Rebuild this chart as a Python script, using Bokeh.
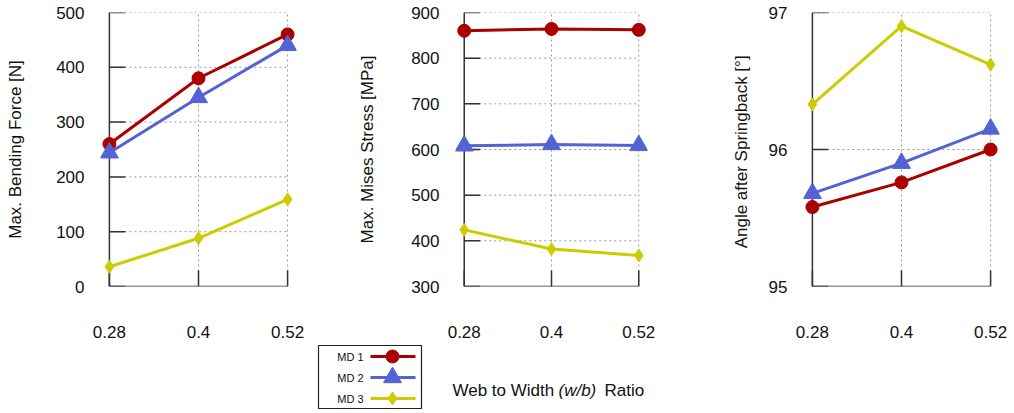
import math
from bokeh.plotting import figure
from bokeh.models import Range1d, FixedTicker, LinearAxis
from bokeh.layouts import column, row
from bokeh.embed import file_html
from bokeh.resources import INLINE
from bokeh.core.properties import value

# ---------------- data ----------------
x_ratio = [0.28, 0.4, 0.52]
xtick_labels = ["0.28", "0.4", "0.52"]
series_names = ["MD 1", "MD 2", "MD 3"]

force_md1 = [260, 380, 460]
force_md2 = [244, 345, 440]
force_md3 = [36, 88, 159]

stress_md1 = [860, 864, 862]
stress_md2 = [608, 611, 609]
stress_md3 = [424, 382, 368]

angle_md1 = [95.58, 95.76, 96.00]
angle_md2 = [95.68, 95.90, 96.15]
angle_md3 = [96.33, 96.90, 96.62]

force_ticks = [0, 100, 200, 300, 400, 500]
stress_ticks = [300, 400, 500, 600, 700, 800, 900]
angle_ticks = [95, 96, 97]

# ---------------- style ----------------
FONT = "Liberation Sans"
COLORS = ["#aa0000", "#5363d6", "#cccc00"]
MARKERS = ["circle", "triangle", "diamond"]
MSIZES = [13, 18, 13]
AXIS_COLOR = "#333333"
GRID_COLOR = "#9a9a9a"
TEXT_COLOR = "#111111"
FRAME_W = 196
PAD = 0.012
H = 340


def make_panel(ylabel, series, yticks, bl, br, lab_standoff):
    ymin, ymax = yticks[0], yticks[-1]
    p = figure(width=bl + FRAME_W + br, height=H,
               x_range=Range1d(x_ratio[0] - PAD, x_ratio[-1] + PAD),
               y_range=Range1d(ymin, ymax),
               output_backend="svg", toolbar_location=None,
               min_border_left=bl, min_border_right=br,
               min_border_top=12, min_border_bottom=53,
               x_axis_type=None, y_axis_type=None)
    p.outline_line_color = None
    p.background_fill_color = "white"
    p.border_fill_color = "white"

    xa = LinearAxis(ticker=FixedTicker(ticks=x_ratio),
                    major_label_overrides=dict(zip(x_ratio, xtick_labels)))
    xa.axis_line_color = None
    xa.major_tick_line_color = None
    xa.minor_tick_line_color = None
    xa.major_label_standoff = 33
    xa.major_label_text_font = FONT
    xa.major_label_text_font_size = "17px"
    xa.major_label_text_color = TEXT_COLOR
    p.add_layout(xa, "below")

    ya = LinearAxis(ticker=FixedTicker(ticks=yticks), axis_label=ylabel)
    ya.axis_line_color = None
    ya.major_tick_line_color = None
    ya.minor_tick_line_color = None
    ya.major_label_standoff = 10
    ya.major_label_text_font = FONT
    ya.major_label_text_font_size = "17px"
    ya.major_label_text_color = TEXT_COLOR
    ya.axis_label_text_font = FONT
    ya.axis_label_text_font_size = "17px"
    ya.axis_label_text_font_style = "normal"
    ya.axis_label_text_color = TEXT_COLOR
    ya.axis_label_standoff = lab_standoff
    p.add_layout(ya, "left")

    x0, x1 = x_ratio[0], x_ratio[-1]
    # grid (dotted)
    gx = x_ratio[1:]
    p.segment(x0=gx, y0=[ymin] * len(gx), x1=gx, y1=[ymax] * len(gx),
              line_color=GRID_COLOR, line_dash="2 3", line_width=1)
    gy = yticks[1:]
    p.segment(x0=[x0] * len(gy), y0=gy, x1=[x1] * len(gy), y1=gy,
              line_color=GRID_COLOR, line_dash="2 3", line_width=1)
    # axis lines
    p.segment(x0=[x0, x0], y0=[ymin, ymin], x1=[x0, x1], y1=[ymax, ymin],
              line_color=AXIS_COLOR, line_width=1.5)
    # inward ticks
    p.ray(x=[x0] * len(yticks), y=yticks, length=16, length_units="screen",
          angle=0, line_color=AXIS_COLOR, line_width=1.5)
    p.ray(x=x_ratio, y=[ymin] * len(x_ratio), length=16, length_units="screen",
          angle=math.pi / 2, line_color=AXIS_COLOR, line_width=1.5)

    for ys, c, m, s in zip(series, COLORS, MARKERS, MSIZES):
        p.line(x_ratio, ys, line_color=c, line_width=3)
        p.scatter(x_ratio, ys, marker=m, size=s, fill_color=c, line_color=c)
    return p


p1 = make_panel("Max. Bending Force [N]", [force_md1, force_md2, force_md3],
                force_ticks, 100, 59, 28)
p2 = make_panel("Max. Mises Stress [MPa]", [stress_md1, stress_md2, stress_md3],
                stress_ticks, 96, 73, 31)
p3 = make_panel("Angle after Springback  [\u00b0]", [angle_md1, angle_md2, angle_md3],
                angle_ticks, 83, 15, 15)

# ---------------- bottom strip: legend + x label ----------------
BW, BH = 1014, 73
bf = figure(width=BW, height=BH, x_range=Range1d(0, BW), y_range=Range1d(BH, 0),
            output_backend="svg", toolbar_location=None, min_border=0,
            x_axis_type=None, y_axis_type=None)
bf.outline_line_color = None
bf.grid.visible = False

bf.quad(left=[318], right=[421], top=[5], bottom=[68], fill_color=None,
        line_color="#222222", line_width=1.2)
rows_y = [16, 37, 58]
bf.text(x=[363] * 3, y=rows_y, text=series_names, text_align="right",
        text_baseline="middle", text_font=value(FONT), text_font_size="11px",
        text_color=TEXT_COLOR)
for yy, c, m, s in zip(rows_y, COLORS, MARKERS, MSIZES):
    bf.segment(x0=[370], y0=[yy], x1=[415], y1=[yy], line_color=c, line_width=3)
    bf.scatter([392], [yy], marker=m, size=s, fill_color=c, line_color=c)

bf.text(x=[452], y=[50], text=["Web to Width"], text_align="left",
        text_baseline="middle", text_font=value(FONT), text_font_size="17px",
        text_color=TEXT_COLOR)
bf.text(x=[558], y=[50], text=["(w/b)"], text_align="left",
        text_baseline="middle", text_font=value(FONT), text_font_size="17px",
        text_font_style="italic", text_color=TEXT_COLOR)
bf.text(x=[604], y=[50], text=["Ratio"], text_align="left",
        text_baseline="middle", text_font=value(FONT), text_font_size="17px",
        text_color=TEXT_COLOR)

layout = column(row(p1, p2, p3), bf)
open("out.html", "w").write(file_html(layout, INLINE))
